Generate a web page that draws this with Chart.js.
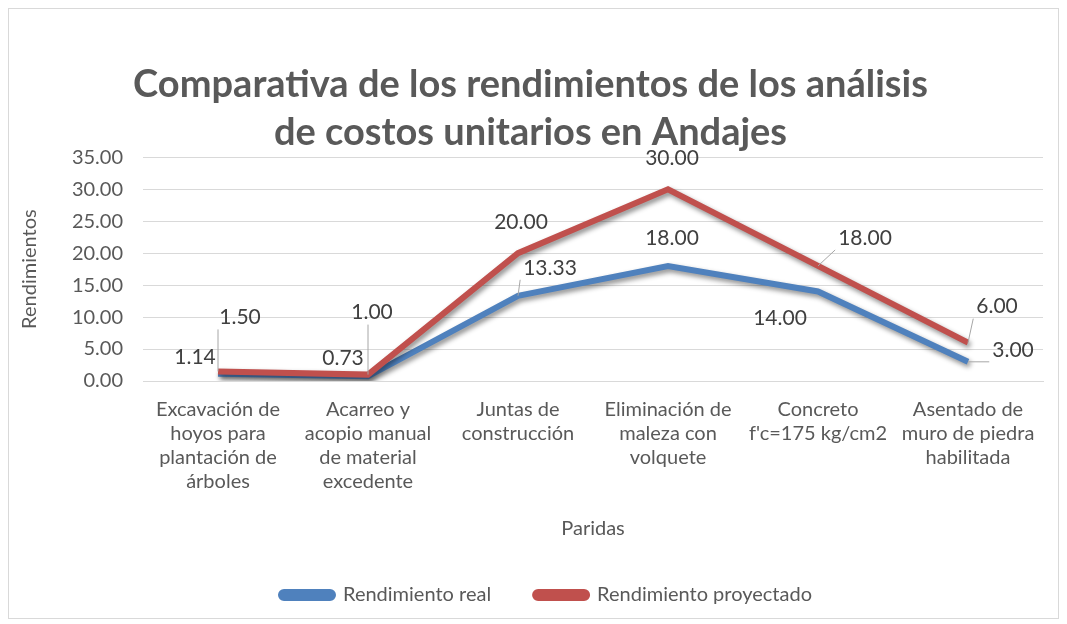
<!DOCTYPE html>
<html lang="es">
<head>
  <meta charset="UTF-8" />
  <title>Comparativa de rendimientos</title>
  <script src="https://cdn.jsdelivr.net/npm/chart.js"></script>
  <style>
    body { margin: 0; background: #fff; }
    .marco { position: absolute; left: 8px; top: 8px; width: 1051px; height: 611px; border: 1px solid #d9d9d9; box-sizing: border-box; }
    .lienzo { position: absolute; left: 0; top: 0; width: 1067px; height: 624px; }
  </style>
</head>
<body>
  <div class="marco"></div>
  <div class="lienzo"><canvas id="grafico"></canvas></div>

  <script>
    // datos
    const partidas = [
      ['Excavación de', 'hoyos para', 'plantación de', 'árboles'],
      ['Acarreo y', 'acopio manual', 'de material', 'excedente'],
      ['Juntas de', 'construcción'],
      ['Eliminación de', 'maleza con', 'volquete'],
      ['Concreto', "f'c=175 kg/cm2"],
      ['Asentado de', 'muro de piedra', 'habilitada']
    ];
    const rendimientoReal = [1.14, 0.73, 13.33, 18.00, 14.00, 3.00];
    const rendimientoProyectado = [1.50, 1.00, 20.00, 30.00, 18.00, 6.00];
    const ticksY = [0, 5, 10, 15, 20, 25, 30, 35];

    // posicion de las etiquetas respecto al punto (px) y si llevan linea guia
    const etiquetasReal = [[-23, -16, 0], [-25, -18, 0], [32, -28, 1], [4, -28, 0], [-38, 27, 0], [45, -12, 1]];
    const etiquetasProy = [[22, -54, 1], [4, -62, 1], [3, -31, 0], [4, -31, 0], [47, -28, 1], [29, -36, 1]];

    const fuente = 'Lato, "Open Sans", sans-serif';
    const gris = '#595959';

    // sombra bajo las lineas
    const sombra = {
      id: 'sombra',
      beforeDatasetDraw(chart) {
        const c = chart.ctx;
        c.save();
        c.shadowColor = 'rgba(0,0,0,0.45)';
        c.shadowBlur = 5;
        c.shadowOffsetX = 2;
        c.shadowOffsetY = 3;
      },
      afterDatasetDraw(chart) {
        chart.ctx.restore();
      }
    };

    // la leyenda esta un poco corrida a la derecha en el original
    const leyendaCorrida = {
      id: 'leyendaCorrida',
      afterLayout(chart) {
        chart.legend.left += 16;
        chart.legend.right += 16;
      }
    };

    // etiquetas de datos con lineas guia
    const etiquetas = {
      id: 'etiquetas',
      afterDatasetsDraw(chart) {
        const c = chart.ctx;
        c.save();
        c.font = '21px ' + fuente;
        c.textAlign = 'center';
        c.textBaseline = 'middle';
        chart.data.datasets.forEach((ds, i) => {
          const conf = i === 0 ? etiquetasReal : etiquetasProy;
          chart.getDatasetMeta(i).data.forEach((p, j) => {
            const [dx, dy, guia] = conf[j];
            const tx = p.x + dx, ty = p.y + dy;
            const txt = ds.data[j].toFixed(2);
            if (guia) {
              const w = c.measureText(txt).width / 2 + 3;
              const h = 12;
              // punto del borde de la etiqueta mas cercano al dato
              const ex = Math.max(tx - w, Math.min(p.x, tx + w));
              const ey = Math.max(ty - h, Math.min(p.y, ty + h));
              c.strokeStyle = '#a6a6a6';
              c.lineWidth = 1;
              c.beginPath();
              c.moveTo(p.x, p.y);
              c.lineTo(ex, ey);
              c.stroke();
            }
            c.fillStyle = '#404040';
            c.fillText(txt, tx, ty);
          });
        });
        c.restore();
      }
    };

    new Chart(document.getElementById('grafico'), {
      type: 'line',
      data: {
        labels: partidas,
        datasets: [
          {
            label: 'Rendimiento real',
            data: rendimientoReal,
            borderColor: '#4f81bd',
            backgroundColor: '#4f81bd',
            borderWidth: 6,
            pointRadius: 0,
            tension: 0,
            order: 1
          },
          {
            label: 'Rendimiento proyectado',
            data: rendimientoProyectado,
            borderColor: '#c0504d',
            backgroundColor: '#c0504d',
            borderWidth: 6,
            pointRadius: 0,
            tension: 0,
            order: 0
          }
        ]
      },
      options: {
        responsive: true,
        maintainAspectRatio: false,
        animation: false,
        layout: { padding: { left: 18, right: 24, top: 60, bottom: 9 } },
        plugins: {
          title: {
            display: true,
            text: ['Comparativa de los rendimientos de los análisis', 'de costos unitarios en Andajes'],
            color: gris,
            font: { family: fuente, size: 38, weight: 'bold', lineHeight: 1.28 },
            padding: { top: 0, bottom: 0 }
          },
          legend: {
            position: 'bottom',
            labels: {
              color: gris,
              font: { family: fuente, size: 20 },
              boxWidth: 52,
              boxHeight: 6,
              useBorderRadius: true,
              borderRadius: 3,
              padding: 44,
              sort: (a, b) => a.datasetIndex - b.datasetIndex
            }
          },
          tooltip: { enabled: false }
        },
        scales: {
          y: {
            min: 0,
            max: 35,
            afterBuildTicks: s => { s.ticks = ticksY.map(v => ({ value: v })); },
            afterFit: s => { s.width = 125; },
            ticks: {
              color: gris,
              font: { family: fuente, size: 20 },
              padding: 20,
              callback: v => v.toFixed(2)
            },
            grid: { color: '#d9d9d9', drawTicks: false },
            border: { display: false },
            title: {
              display: true,
              text: 'Rendimientos',
              color: gris,
              font: { family: fuente, size: 20 },
              padding: 0
            }
          },
          x: {
            offset: true,
            ticks: {
              color: gris,
              font: { family: fuente, size: 20, lineHeight: 1.2 },
              maxRotation: 0,
              autoSkip: false,
              padding: 17
            },
            grid: { display: false, drawTicks: false },
            border: { color: '#d9d9d9' },
            title: {
              display: true,
              text: 'Paridas',
              color: gris,
              font: { family: fuente, size: 20 },
              padding: { top: 6, bottom: 0 }
            }
          }
        }
      },
      plugins: [sombra, leyendaCorrida, etiquetas]
    });
  </script>
</body>
</html>
